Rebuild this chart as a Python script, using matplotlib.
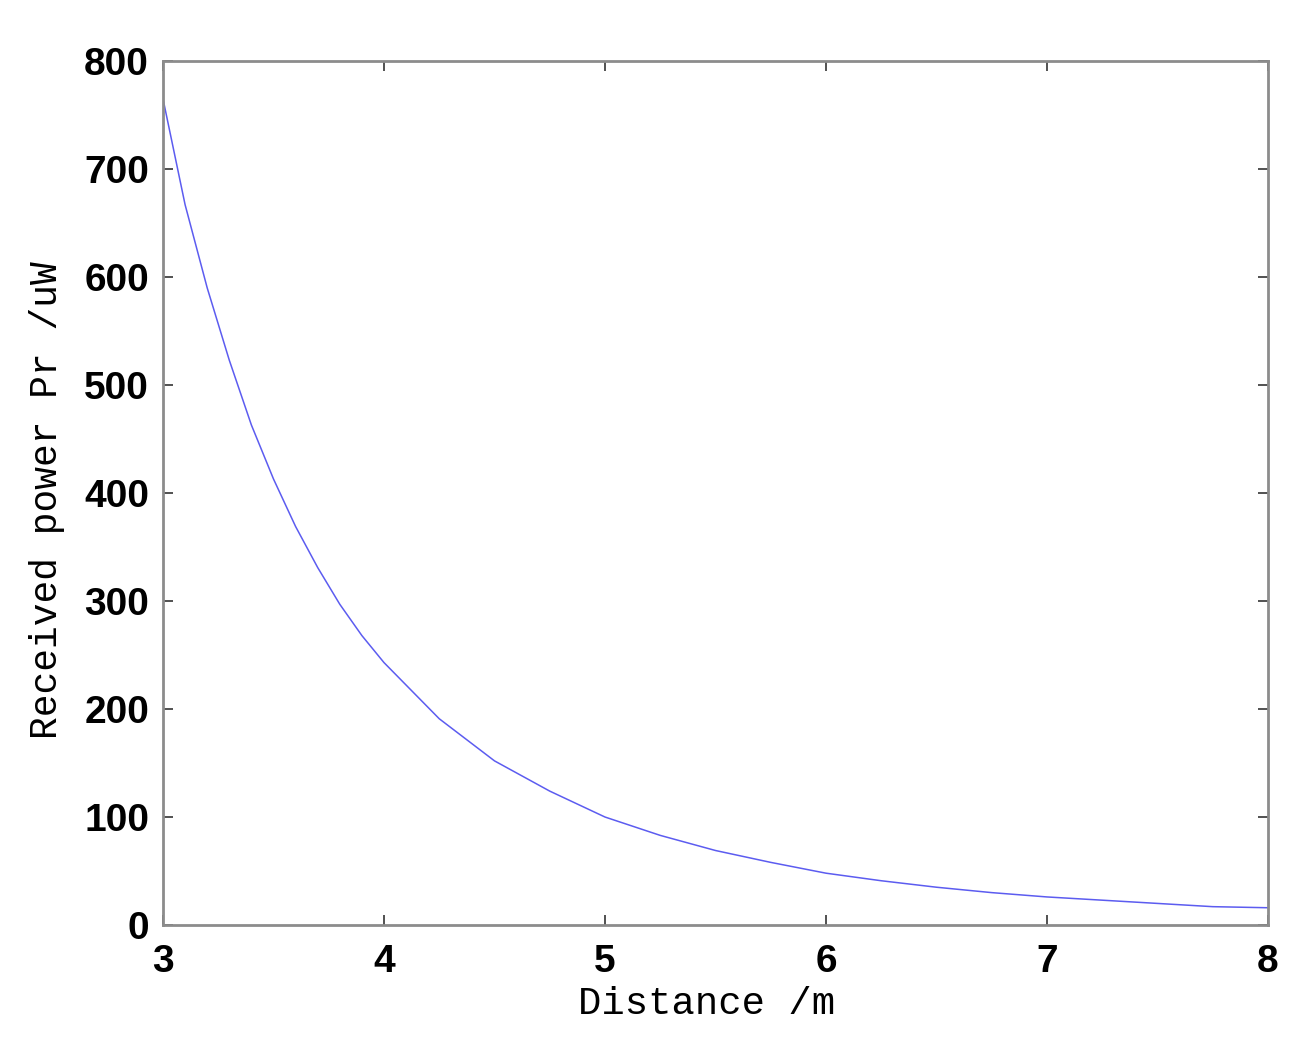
import matplotlib
matplotlib.use("Agg")
import matplotlib.pyplot as plt

distance = [3.0, 3.1, 3.2, 3.3, 3.4, 3.5, 3.6, 3.7, 3.8, 3.9, 4.0,
            4.25, 4.5, 4.75, 5.0, 5.25, 5.5, 5.75, 6.0, 6.25, 6.5,
            6.75, 7.0, 7.25, 7.5, 7.75, 8.0]
power = [765, 667, 590, 523, 463, 413, 369, 331, 297, 268, 243,
         191, 152, 124, 100, 83, 69, 58, 48, 41, 35,
         30, 26, 23, 20, 17, 16]

xticks = [3, 4, 5, 6, 7, 8]
yticks = [0, 100, 200, 300, 400, 500, 600, 700, 800]

fig = plt.figure(figsize=(13.06, 10.47), dpi=100)
ax = fig.add_axes([0.1248, 0.1165, 0.9709 - 0.1248, 0.9417 - 0.1165])

ax.plot(distance, power, color="#5c5cf0", linewidth=1.1)
ax.set_xlim(3, 8)
ax.set_ylim(0, 800)
ax.set_xticks(xticks)
ax.set_yticks(yticks)
ax.set_xticklabels([str(t) for t in xticks])
ax.set_yticklabels([str(t) for t in yticks])

for lab in ax.get_xticklabels() + ax.get_yticklabels():
    lab.set_fontfamily("Liberation Sans")
    lab.set_fontweight("bold")
    lab.set_fontsize(28)

ax.tick_params(direction="in", length=7, width=1.2, color="#333333",
               top=True, right=True)
ax.tick_params(axis="x", pad=14)
ax.tick_params(axis="y", pad=10)
for s in ax.spines.values():
    s.set_color("#8c8c8c")
    s.set_linewidth(2)

ax.set_xlabel("Distance /m", fontfamily="Liberation Mono", fontsize=28)
ax.set_ylabel("Received power Pr /uW", fontfamily="Liberation Mono",
              fontsize=27.3)
ax.xaxis.set_label_coords(0.492, -0.07)
ax.yaxis.set_label_coords(-0.089, 0.492)

fig.savefig("out.png", dpi=100)
